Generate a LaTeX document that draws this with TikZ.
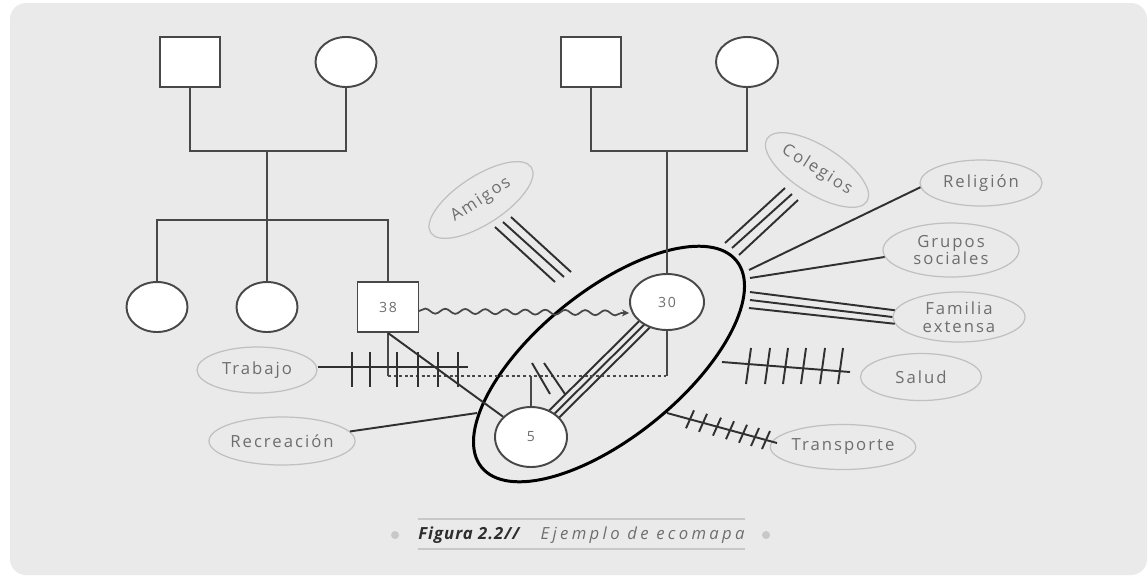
\documentclass[tikz,border=0pt]{standalone}
\usepackage{fontspec}
\usetikzlibrary{shapes.geometric,arrows.meta,decorations.pathmorphing,calc}
\newfontfamily\labfont[LetterSpace=12]{Open Sans}
\newfontfamily\capfont[LetterSpace=6]{Open Sans}
\newfontfamily\capspaced[LetterSpace=20]{Open Sans}
\definecolor{bgc}{RGB}{234,234,234}
\definecolor{lblc}{RGB}{192,192,192}
\definecolor{txtc}{RGB}{110,110,110}
\definecolor{genc}{RGB}{72,72,72}
\definecolor{linec}{RGB}{48,48,48}
\definecolor{capc}{RGB}{45,45,45}
\definecolor{capl}{RGB}{200,200,200}
\pgfdeclarelayer{back}
\pgfdeclarelayer{lines}
\pgfsetlayers{back,lines,main}
\def\PX{0.02cm}
\begin{document}
\begin{tikzpicture}[x=0.02cm,y=-0.02cm,
  gen/.style={draw=genc,line width=1.1pt},
  eco/.style={draw=linec,line width=1.1pt},
  sq/.style={rectangle,draw=genc,fill=white,line width=1.1pt,inner sep=0pt,
     minimum width=60*\PX,minimum height=50*\PX,font=\labfont\fontsize{8}{9}\selectfont,text=txtc},
  circ/.style={ellipse,draw=genc,fill=white,line width=1.1pt,inner sep=0pt,
     font=\labfont\fontsize{8}{9}\selectfont,text=txtc},
  lab/.style={ellipse,draw=lblc,line width=0.7pt,inner sep=0pt,align=center,
     font=\labfont\fontsize{9.5}{10}\selectfont,text=txtc},
  dotn/.style={circle,fill=capl,inner sep=0pt,minimum size=8*\PX}]
\useasboundingbox (0,0) rectangle (1148,576);
\begin{pgfonlayer}{back}
  \fill[white] (0,0) rectangle (1148,576);
  \fill[bgc,rounded corners=0.32cm] (10,3) rectangle (1147,575);
\end{pgfonlayer}

% genogram nodes
\node[sq] (gp1) at (190,62) {};
\node[circ,minimum width=61*\PX,minimum height=50*\PX] (gm1) at (346,62) {};
\node[sq] (gp2) at (591,62) {};
\node[circ,minimum width=62*\PX,minimum height=50*\PX] (gm2) at (747,62) {};
\node[circ,minimum width=61*\PX,minimum height=50*\PX] (c1) at (157,307) {};
\node[circ,minimum width=61*\PX,minimum height=50*\PX] (c2) at (267,307) {};
\node[sq,minimum width=61*\PX] (n38) at (388,307) {38};
\node[circ,minimum width=74*\PX,minimum height=56*\PX] (n30) at (667,302) {30};
\node[circ,minimum width=72*\PX,minimum height=60*\PX] (n5) at (531,437) {5};

% family ellipse
\node[ellipse,draw=black,line width=1.7pt,inner sep=0pt,
  minimum width=328*\PX,minimum height=146*\PX,rotate=39] (fam) at (609,364) {};

% genogram lines
\coordinate (u1) at (267,151);
\coordinate (s1) at (267,220);
\coordinate (u2) at (667,151);
\coordinate (d1) at (388,376);
\coordinate (d2) at (667,376);
\coordinate (d3) at (531,376);
\draw[gen] (gp1.south) |- (u1) -| (gm1.south);
\draw[gen] (u1) -- (s1);
\draw[gen] (c1.north) |- (s1) -| (n38.north);
\draw[gen] (s1) -- (c2.north);
\draw[gen] (gp2.south) |- (u2) -| (gm2.south);
\draw[gen] (u2) -- (n30.north);
\draw[gen] (n30.south) -- (d2);
\draw[gen] (n38.south) -- (d1);
\draw[gen,dash pattern=on 1.6pt off 1.6pt] (d1) -- (d2);
\draw[gen] (d3) -- (n5.north);
\draw[eco] (532,363) -- (550,394);
\draw[eco] (544,363) -- (565,394);
\draw[eco] (n38.south) -- (n5);

% wavy relation
\coordinate (w1) at (419,311);
\coordinate (w2) at (629,313);
\draw[draw=genc,line width=1pt,-{Stealth[length=4pt,width=4pt]},decorate,
  decoration={snake,segment length=0.4cm,amplitude=0.05cm,post length=0.1cm}] (w1) -- (w2);

% strong tie 5 -- 30
\begin{pgfonlayer}{lines}
\foreach \o in {-6,0,6}
  \draw[eco] ($(n5.center)!\o*\PX!90:(n30.center)$) -- ($(n30.center)!\o*\PX!-90:(n5.center)$);
\end{pgfonlayer}

% labels
\node[lab,minimum width=120*\PX,minimum height=46*\PX] (trab) at (257,370) {Trabajo};
\node[lab,minimum width=134*\PX,minimum height=48*\PX] (recr) at (282,441) {Recreación};
\node[lab,minimum width=120*\PX,minimum height=48*\PX,rotate=33] (amig) at (481,200) {Amigos};
\node[lab,minimum width=118*\PX,minimum height=48*\PX,rotate=-32] (coleg) at (817,170) {Colegios};
\node[lab,minimum width=122*\PX,minimum height=46*\PX] (relig) at (981,183) {Religión};
\node[lab,minimum width=136*\PX,minimum height=54*\PX] (grup) at (951,250) {Grupos\\sociales};
\node[lab,minimum width=132*\PX,minimum height=50*\PX] (famx) at (959,317) {Familia\\extensa};
\node[lab,minimum width=121*\PX,minimum height=47*\PX] (salud) at (921,377) {Salud};
\node[lab,minimum width=121*\PX,minimum height=45*\PX] (transp) at (843,447) {Transporte};

% ecomap connectors
\coordinate (tr2) at (468,367);
\draw[eco] (trab.east |- tr2) -- (tr2);
\foreach \x in {352,370,397,418,438,458} \draw[eco] (\x,352) -- (\x,387);

\coordinate (re2) at (477,413);
\draw[eco] (recr.8) -- (re2);

\coordinate (am1) at (495,227); \coordinate (am1b) at (555,282);
\coordinate (am2) at (503,222); \coordinate (am2b) at (564,277);
\coordinate (am3) at (511,217); \coordinate (am3b) at (571,272);
\draw[eco] (am1) -- (am1b);
\draw[eco] (am2) -- (am2b);
\draw[eco] (am3) -- (am3b);

\coordinate (co1) at (785,188); \coordinate (co1b) at (725,243);
\coordinate (co2) at (792,194); \coordinate (co2b) at (732,248);
\coordinate (co3) at (798,200); \coordinate (co3b) at (739,255);
\draw[eco] (co1) -- (co1b);
\draw[eco] (co2) -- (co2b);
\draw[eco] (co3) -- (co3b);

\coordinate (rl1) at (749,270);
\draw[eco] (rl1) -- (relig.184);
\coordinate (gr1) at (750,278);
\draw[eco] (gr1) -- (grup.186);
\coordinate (fx1) at (750,292);
\coordinate (fx2) at (750,300);
\coordinate (fx3) at (749,308);
\draw[eco] (fx1) -- (famx.174);
\draw[eco] (fx2) -- (famx.180);
\draw[eco] (fx3) -- (famx.186);

\coordinate (sa1) at (722,362);
\coordinate (sa2) at (850,372);
\draw[eco] (sa1) -- (sa2);
\foreach \x in {748,767,785,803,822,840} \draw[eco] (\x-2,384) -- (\x+3,348);

\coordinate (tp1) at (667,413);
\coordinate (tp2) at (777,443);
\draw[eco] (tp1) -- (tp2);
\foreach \x in {690,703,717,730,743,755,766}
  \draw[eco] ({\x-4},{413+0.2727*(\x-667)+9}) -- ({\x+4},{413+0.2727*(\x-667)-9});

% caption
\draw[capl,line width=0.8pt] (418,519) -- (745,519);
\draw[capl,line width=0.8pt] (418,549) -- (745,549);
\node[dotn] (dl) at (395,535) {};
\node[dotn] (dr) at (766,535) {};
\node[inner sep=0pt,anchor=west,text=capc,font=\capfont\fontsize{9.5}{11}\selectfont\bfseries\itshape] (capa) at (418,535) {Figura 2.2//};
\node[inner sep=0pt,anchor=east,text=txtc,font=\capspaced\fontsize{9.5}{11}\selectfont\itshape] (capb) at (745,535) {Ejemplo de ecomapa};
\end{tikzpicture}
\end{document}
